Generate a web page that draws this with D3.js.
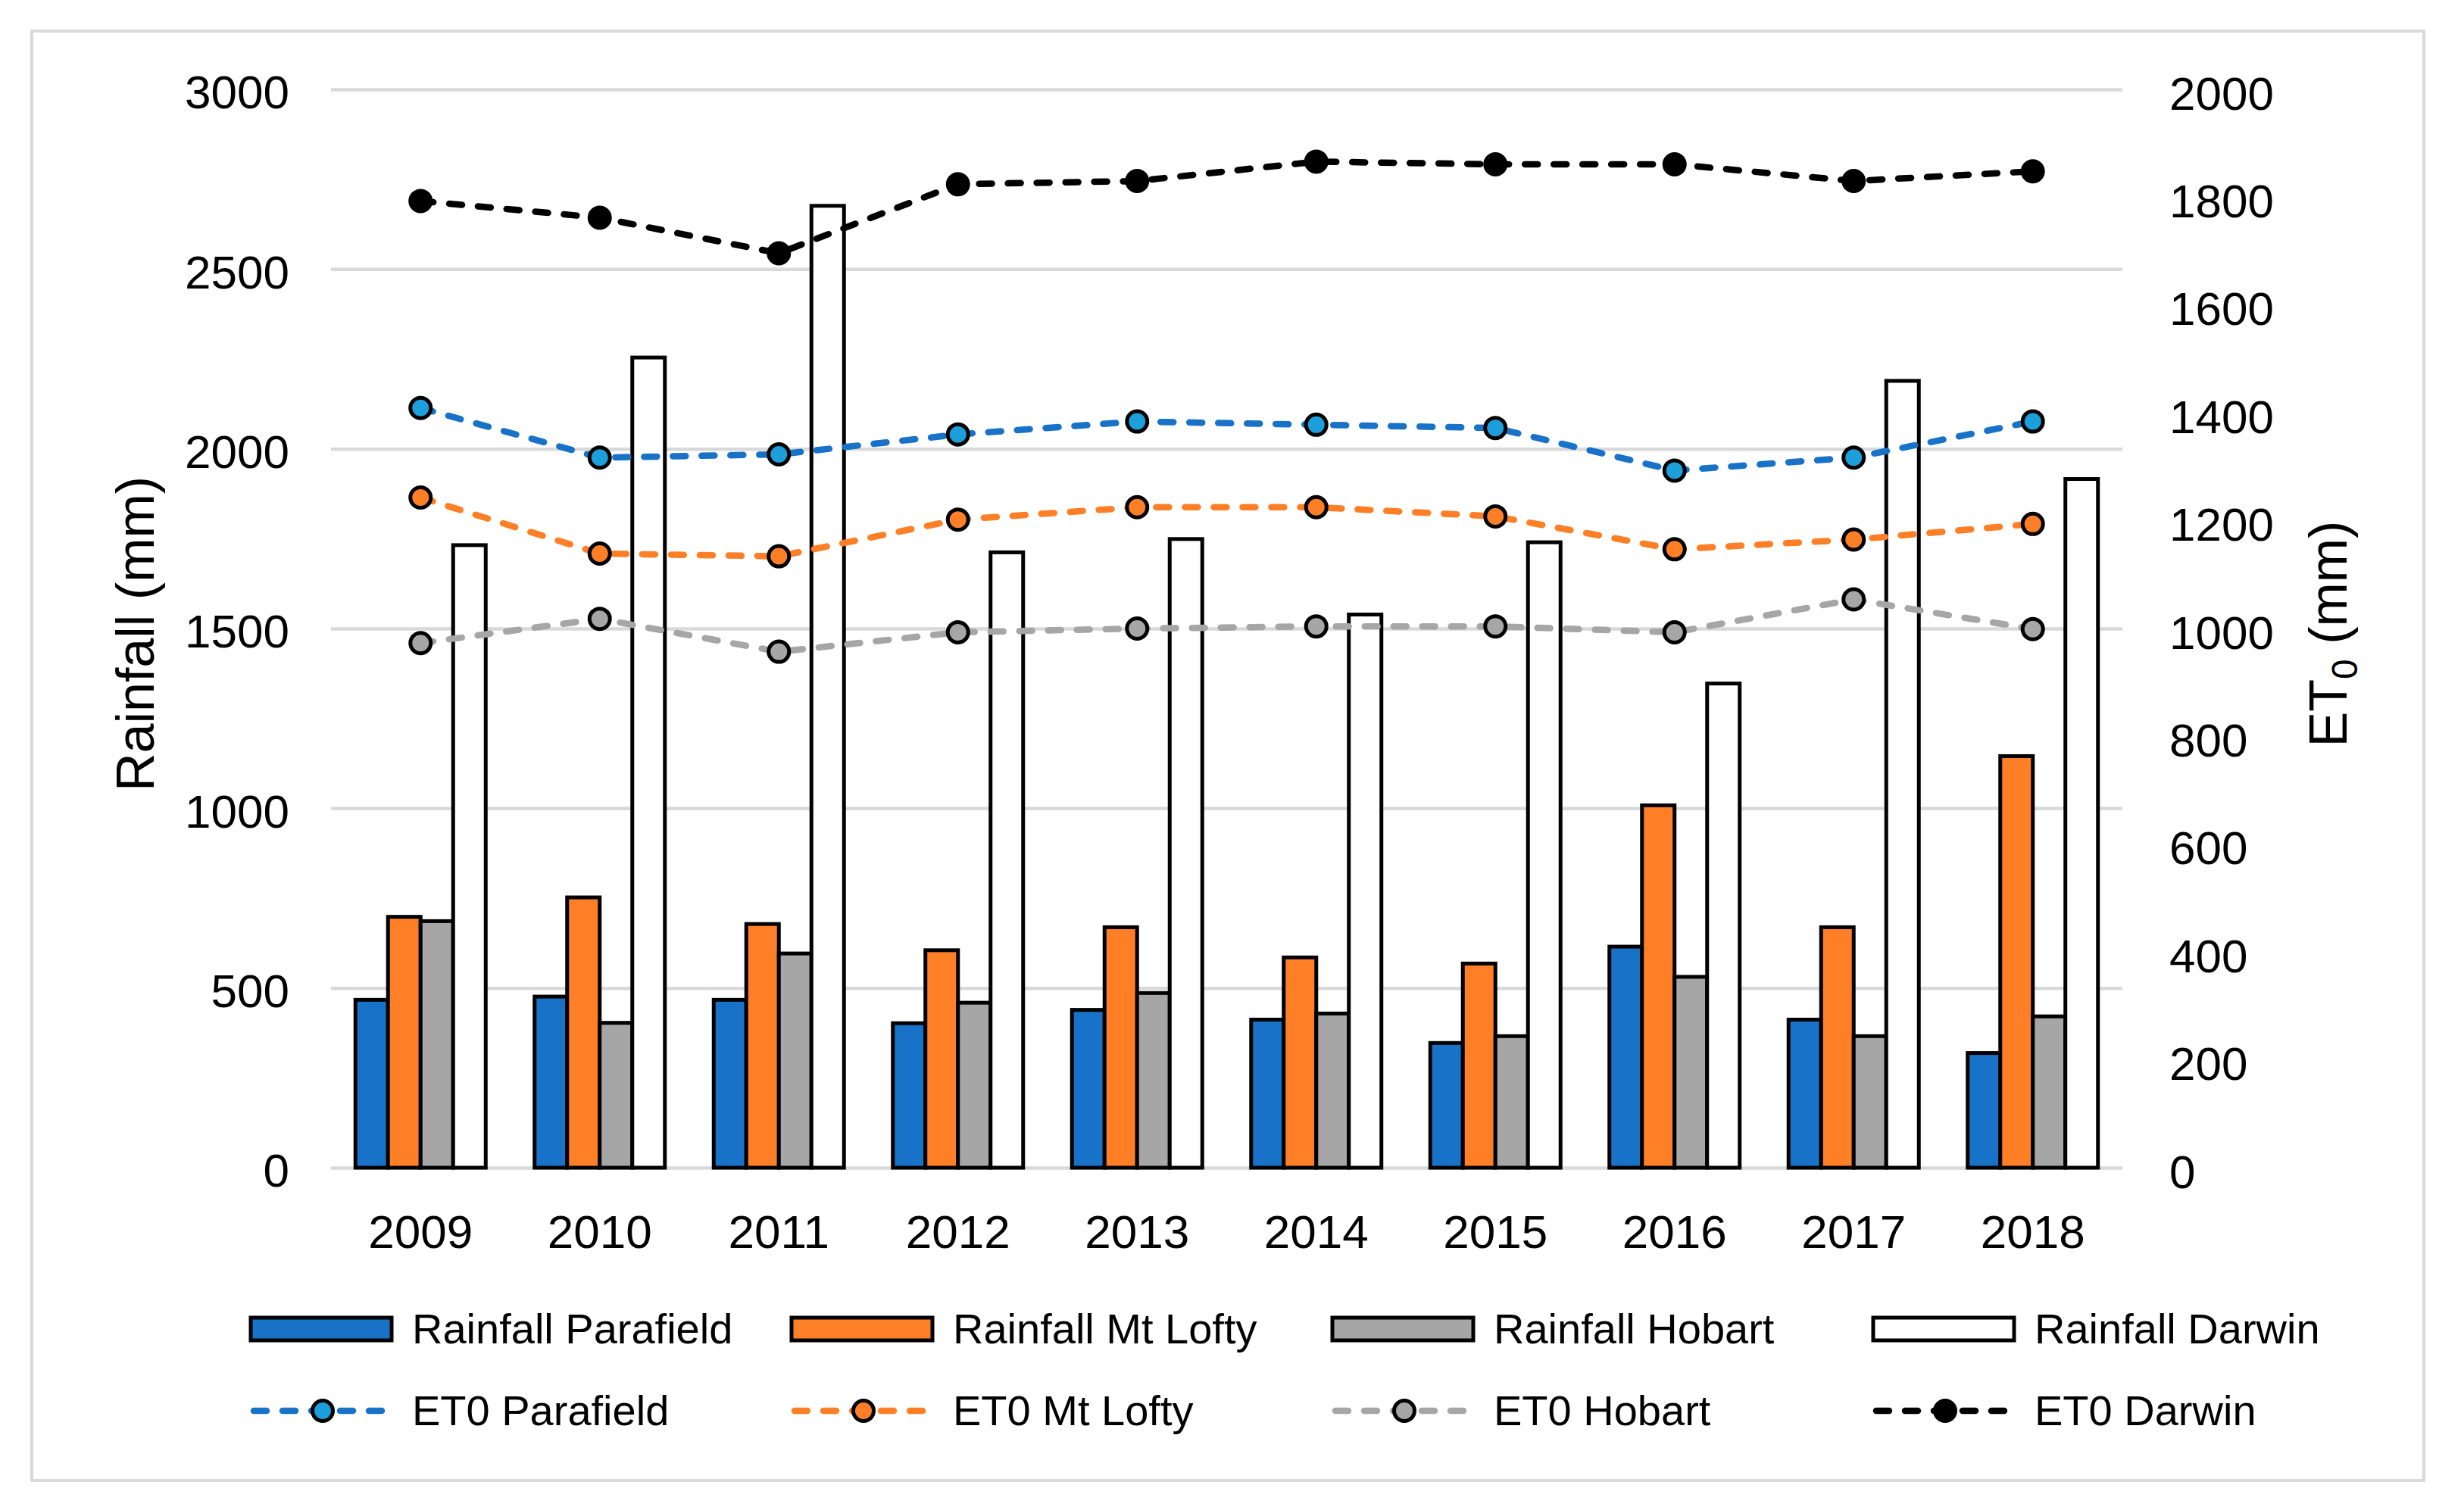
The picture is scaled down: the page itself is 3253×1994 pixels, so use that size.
<!DOCTYPE html>
<html>
<head>
<meta charset="utf-8">
<script src="https://cdn.jsdelivr.net/npm/d3@7"></script>
<style>
  body { margin: 0; background: #fff; }
  svg { display: block; font-family: "Liberation Sans", Arial, sans-serif; }
</style>
</head>
<body>
<div id="chart"></div>
<script>
// data
const years = ["2009", "2010", "2011", "2012", "2013", "2014", "2015", "2016", "2017", "2018"];

const rainParafield = [467, 476, 467, 402, 439, 412, 347, 615, 412, 319];
const rainMtLofty   = [698, 752, 678, 605, 669, 585, 568, 1008, 669, 1145];
const rainHobart    = [686, 403, 596, 459, 486, 429, 366, 531, 366, 421];
const rainDarwin    = [1732, 2254, 2676, 1712, 1749, 1539, 1740, 1347, 2189, 1916];

const et0Parafield = [1409, 1317, 1323, 1360, 1384, 1378, 1372, 1293, 1317, 1384];
const et0MtLofty   = [1243, 1139, 1134, 1202, 1225, 1225, 1208, 1147, 1165, 1194];
const et0Hobart    = [973, 1018, 957, 993, 1000, 1004, 1004, 993, 1054, 999];
const et0Darwin    = [1793, 1762, 1696, 1824, 1830, 1866, 1861, 1861, 1830, 1848];

const leftTicks  = [0, 500, 1000, 1500, 2000, 2500, 3000];
const rightTicks = [0, 200, 400, 600, 800, 1000, 1200, 1400, 1600, 1800, 2000];

const barSeries = [
  {name: "Rainfall Parafield", values: rainParafield, fill: "#1873c8"},
  {name: "Rainfall Mt Lofty",  values: rainMtLofty,   fill: "#ff7f27"},
  {name: "Rainfall Hobart",    values: rainHobart,    fill: "#a6a6a6"},
  {name: "Rainfall Darwin",    values: rainDarwin,    fill: "#ffffff"}
];
const lineSeries = [
  {name: "ET0 Parafield", values: et0Parafield, line: "#1873c8", dot: "#1c9fdb"},
  {name: "ET0 Mt Lofty",  values: et0MtLofty,   line: "#ff7f27", dot: "#ff7f27"},
  {name: "ET0 Hobart",    values: et0Hobart,    line: "#a6a6a6", dot: "#a6a6a6"},
  {name: "ET0 Darwin",    values: et0Darwin,    line: "#000000", dot: "#000000"}
];

const W = 3253, H = 1994;
const plot = {left: 437, right: 2802, top: 118, bottom: 1542};
const fontFam = '"Liberation Sans", Arial, sans-serif';

let svg = d3.select('#chart')
  .append('svg')
  .attr('width', W)
  .attr('height', H)
  .style('background-color', '#fff');

// outer frame
svg.append('rect')
  .attr('x', 42).attr('y', 41)
  .attr('width', 3200 - 42).attr('height', 1955 - 41)
  .attr('fill', '#fff')
  .attr('stroke', '#d9d9d9')
  .attr('stroke-width', 4);

// scales
let x0 = d3.scaleBand().domain(years).range([plot.left, plot.right]).padding(0);
let groupW = 172;
let x1 = d3.scaleBand().domain(barSeries.map(s => s.name)).range([0, groupW]).padding(0);
let yL = d3.scaleLinear().domain([0, 3000]).range([plot.bottom, plot.top]);
let yR = d3.scaleLinear().domain([0, 2000]).range([plot.bottom, plot.top]);

// left axis + gridlines
let gLeft = svg.append('g')
  .attr('transform', `translate(${plot.left},0)`)
  .call(d3.axisLeft(yL).tickValues(leftTicks).tickFormat(d3.format('d'))
    .tickSize(-(plot.right - plot.left)).tickPadding(55));
gLeft.select('.domain').remove();
gLeft.selectAll('.tick line').attr('stroke', '#d9d9d9').attr('stroke-width', 4.5);
gLeft.selectAll('.tick text')
  .attr('dy', '0.4em')
  .style('font-size', '62px')
  .style('font-family', fontFam)
  .attr('fill', '#000');

// right axis
let gRight = svg.append('g')
  .attr('transform', `translate(${plot.right},0)`)
  .call(d3.axisRight(yR).tickValues(rightTicks).tickFormat(d3.format('d'))
    .tickSize(0).tickPadding(62));
gRight.select('.domain').remove();
gRight.selectAll('.tick text')
  .attr('dy', '0.42em')
  .style('font-size', '62px')
  .style('font-family', fontFam)
  .attr('fill', '#000');

// x axis
let gX = svg.append('g')
  .attr('transform', `translate(0,${plot.bottom})`)
  .call(d3.axisBottom(x0).tickSize(0).tickPadding(62));
gX.select('.domain').remove();
gX.selectAll('.tick text')
  .style('font-size', '62px')
  .style('font-family', fontFam)
  .attr('fill', '#000');

// bars
let groups = svg.selectAll('.year')
  .data(years)
  .enter().append('g')
  .attr('class', 'year')
  .attr('transform', d => `translate(${x0(d) + (x0.bandwidth() - groupW) / 2},0)`);

barSeries.forEach(s => {
  groups.append('rect')
    .attr('x', x1(s.name))
    .attr('y', (d, i) => yL(s.values[i]))
    .attr('width', x1.bandwidth())
    .attr('height', (d, i) => yL(0) - yL(s.values[i]))
    .attr('fill', s.fill)
    .attr('stroke', '#000')
    .attr('stroke-width', 5);
});

// ET0 lines
let line = d3.line()
  .x((d, i) => x0(years[i]) + x0.bandwidth() / 2)
  .y(d => yR(d));

lineSeries.forEach(s => {
  svg.append('path')
    .datum(s.values)
    .attr('d', line)
    .attr('fill', 'none')
    .attr('stroke', s.line)
    .attr('stroke-width', 8.5)
    .attr('stroke-dasharray', '17 21')
    .attr('stroke-linecap', 'round');
  svg.selectAll(null)
    .data(s.values)
    .enter().append('circle')
    .attr('cx', (d, i) => x0(years[i]) + x0.bandwidth() / 2)
    .attr('cy', d => yR(d))
    .attr('r', 13.5)
    .attr('fill', s.dot)
    .attr('stroke', '#000')
    .attr('stroke-width', 5);
});

// axis titles
svg.append('text')
  .attr('transform', `translate(203,837) rotate(-90)`)
  .attr('text-anchor', 'middle')
  .style('font-size', '70px')
  .text('Rainfall (mm)');

let et = svg.append('text')
  .attr('transform', `translate(3098,837) rotate(-90)`)
  .attr('text-anchor', 'middle')
  .style('font-size', '70px');
et.append('tspan').text('ET');
et.append('tspan').attr('dy', 14).style('font-size', '48px').text('0');
et.append('tspan').attr('dy', -14).text(' (mm)');

// legend
let legX = [331, 1045, 1759, 2473];
let rowY = [1755, 1863];

barSeries.forEach((s, i) => {
  svg.append('rect')
    .attr('x', legX[i]).attr('y', rowY[0] - 15)
    .attr('width', 186).attr('height', 30)
    .attr('fill', s.fill)
    .attr('stroke', '#000')
    .attr('stroke-width', 5);
  svg.append('text')
    .attr('x', legX[i] + 213).attr('y', rowY[0] + 19)
    .style('font-size', '56px')
    .text(s.name);
});

lineSeries.forEach((s, i) => {
  svg.append('line')
    .attr('x1', legX[i] + 4).attr('x2', legX[i] + 188)
    .attr('y1', rowY[1]).attr('y2', rowY[1])
    .attr('stroke', s.line)
    .attr('stroke-width', 8.5)
    .attr('stroke-dasharray', '17 21')
    .attr('stroke-linecap', 'round');
  svg.append('circle')
    .attr('cx', legX[i] + 95).attr('cy', rowY[1])
    .attr('r', 13.5)
    .attr('fill', s.dot)
    .attr('stroke', '#000')
    .attr('stroke-width', 5);
  svg.append('text')
    .attr('x', legX[i] + 213).attr('y', rowY[1] + 19)
    .style('font-size', '56px')
    .text(s.name);
});
</script>
</body>
</html>
